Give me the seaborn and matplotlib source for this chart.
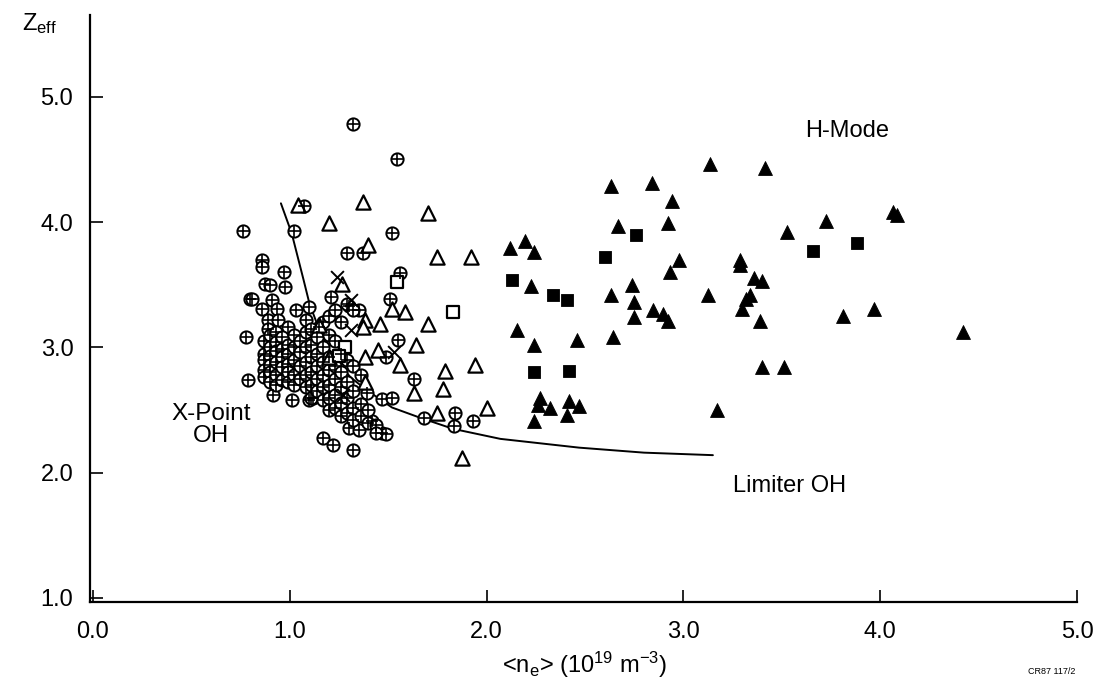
import matplotlib
matplotlib.use("Agg")
import matplotlib.pyplot as plt
import seaborn as sns

# X-Point OH (circle with plus)
xpoint_n = [1.32, 1.545, 0.76, 1.02, 1.07, 1.52, 1.29, 1.37,
            0.86, 0.86, 0.97, 0.875, 0.90, 0.975, 0.80, 0.81, 0.91, 0.86, 0.935, 1.03, 1.10,
            0.89, 0.94, 1.08, 0.78, 0.89, 0.99, 1.15,
            1.56, 1.21, 1.51, 1.55, 1.49, 1.30, 1.35,
            1.63, 1.39, 1.47, 1.52, 1.84, 1.835, 1.68, 1.93, 1.30, 1.35, 1.47, 1.49, 1.32, 1.42,
            0.79, 0.915, 1.01, 1.10, 1.12, 1.17, 1.22,
            0.87, 0.87, 0.87, 0.87, 0.87,
            0.90, 0.90, 0.90, 0.90, 0.90, 0.90,
            0.93, 0.93, 0.93, 0.93, 0.93, 0.93,
            0.96, 0.96, 0.96, 0.96, 0.96,
            0.99, 0.99, 0.99, 0.99, 0.99,
            1.02, 1.02, 1.02, 1.02, 1.02,
            1.05, 1.05, 1.05, 1.05,
            1.08, 1.08, 1.08, 1.08, 1.08,
            1.11, 1.11, 1.11, 1.11, 1.11, 1.11,
            1.14, 1.14, 1.14, 1.14, 1.14,
            1.17, 1.17, 1.17, 1.17, 1.17, 1.17,
            1.20, 1.20, 1.20, 1.20, 1.20, 1.20, 1.20,
            1.23, 1.23, 1.23, 1.23, 1.23, 1.23,
            1.26, 1.26, 1.26, 1.26, 1.26, 1.26,
            1.29, 1.29, 1.29, 1.29, 1.29,
            1.32, 1.32, 1.32, 1.32, 1.32,
            1.36, 1.36, 1.36,
            1.40, 1.40,
            1.44, 1.44]
xpoint_z = [4.78, 4.50, 3.93, 3.93, 4.13, 3.91, 3.75, 3.75,
            3.70, 3.64, 3.60, 3.51, 3.50, 3.48, 3.39, 3.39, 3.38, 3.31, 3.31, 3.30, 3.32,
            3.22, 3.22, 3.22, 3.08, 3.15, 3.16, 3.16,
            3.59, 3.40, 3.39, 3.06, 2.92, 3.33, 3.30,
            2.75, 2.64, 2.59, 2.60, 2.48, 2.37, 2.44, 2.41, 2.36, 2.34, 2.32, 2.31, 2.18, 2.41,
            2.74, 2.62, 2.58, 2.58, 2.60, 2.28, 2.22,
            3.05, 2.95, 2.90, 2.82, 2.76,
            3.10, 3.00, 2.93, 2.86, 2.80, 2.72,
            3.12, 3.04, 2.97, 2.88, 2.78, 2.70,
            3.08, 2.99, 2.92, 2.84, 2.74,
            3.02, 2.95, 2.87, 2.80, 2.72,
            3.10, 3.00, 2.90, 2.78, 2.70,
            3.05, 2.96, 2.85, 2.75,
            3.12, 3.00, 2.88, 2.78, 2.68,
            3.15, 3.02, 2.92, 2.80, 2.70, 2.60,
            3.08, 2.95, 2.85, 2.75, 2.65,
            3.20, 3.00, 2.88, 2.78, 2.68, 2.58,
            3.25, 3.10, 2.92, 2.82, 2.70, 2.60, 2.50,
            3.30, 3.05, 2.85, 2.75, 2.62, 2.52,
            3.20, 2.95, 2.80, 2.68, 2.56, 2.45,
            3.35, 2.90, 2.72, 2.60, 2.48,
            3.30, 2.85, 2.65, 2.52, 2.42,
            2.78, 2.55, 2.45,
            2.50, 2.40,
            2.38, 2.32]

# Limiter OH (open triangles, open squares, crosses)
limiter_n = [1.04, 1.20, 1.37, 1.40, 1.70, 1.75, 1.92, 1.265, 1.52, 1.585, 1.46, 1.38,
             1.37, 1.70, 1.45, 1.38, 1.64, 1.56, 1.79, 1.94, 1.63, 1.78, 1.38, 1.75,
             2.00, 1.875, 1.15, 1.20]
limiter_z = [4.14, 3.99, 4.16, 3.82, 4.07, 3.72, 3.72, 3.51, 3.31, 3.28, 3.19, 3.22,
             3.16, 3.19, 2.98, 2.92, 3.02, 2.86, 2.81, 2.86, 2.64, 2.67, 2.72, 2.48,
             2.52, 2.12, 3.18, 2.92]
limsq_n = [1.545, 1.83, 1.28, 1.25]
limsq_z = [3.52, 3.28, 3.00, 2.93]
cross_n = [1.24, 1.31, 1.31, 1.53, 1.27]
cross_z = [3.56, 3.38, 3.14, 2.96, 2.62]

# H-Mode (filled triangles, filled squares)
hmode_n = [3.135, 3.415, 2.63, 2.84, 2.94, 2.67, 2.92, 2.12, 2.195, 2.24, 2.98, 2.93,
           3.29, 3.29, 2.225, 2.63, 2.74, 2.75, 2.75, 2.845, 2.895, 2.92, 3.125, 3.36,
           3.40, 3.34, 3.32, 3.30, 3.39, 2.155, 2.24, 2.46, 2.64, 3.40, 3.51, 2.27,
           2.26, 2.32, 2.42, 2.47, 2.41, 2.24, 3.17, 4.065, 4.085, 3.725, 3.525, 3.81,
           3.97, 4.42]
hmode_z = [4.46, 4.43, 4.29, 4.31, 4.17, 3.97, 3.99, 3.79, 3.85, 3.76, 3.70, 3.60,
           3.70, 3.66, 3.49, 3.42, 3.50, 3.36, 3.24, 3.30, 3.27, 3.21, 3.42, 3.55,
           3.53, 3.42, 3.39, 3.31, 3.21, 3.14, 3.02, 3.06, 3.08, 2.84, 2.84, 2.60,
           2.54, 2.52, 2.57, 2.53, 2.46, 2.41, 2.50, 4.08, 4.06, 4.01, 3.92, 3.25,
           3.31, 3.12]
hmsq_n = [2.76, 2.60, 2.13, 2.34, 2.41, 2.24, 2.42, 3.66, 3.88]
hmsq_z = [3.90, 3.72, 3.54, 3.42, 3.38, 2.80, 2.81, 3.77, 3.83]

# limiter OH boundary curve
curve_n = [0.955, 1.01, 1.07, 1.10, 1.15, 1.22, 1.31, 1.39, 1.52, 1.66, 1.83, 2.07, 2.47, 2.80, 3.15]
curve_z = [4.15, 3.91, 3.54, 3.35, 3.14, 2.92, 2.76, 2.66, 2.52, 2.44, 2.35, 2.27, 2.20, 2.16, 2.14]

sns.set_style("ticks")
plt.rcParams["font.family"] = ["Liberation Sans", "DejaVu Sans"]
plt.rcParams["mathtext.fontset"] = "custom"
plt.rcParams["mathtext.rm"] = "Liberation Sans"
plt.rcParams["mathtext.it"] = "Liberation Sans:italic"
plt.rcParams["text.color"] = "black"

fig = plt.figure(figsize=(11.02, 6.84), dpi=100)
ax = fig.add_axes([90 / 1102, 82 / 684, 987 / 1102, 587 / 684])

sns.lineplot(x=curve_n, y=curve_z, sort=False, color="black", linewidth=1.4, ax=ax)

sns.scatterplot(x=xpoint_n, y=xpoint_z, marker="o", s=78, facecolor="white", edgecolor="black",
                linewidth=1.4, ax=ax, zorder=3)
sns.scatterplot(x=xpoint_n, y=xpoint_z, marker="+", s=78, color="black", linewidth=1.2,
                ax=ax, zorder=4)
sns.scatterplot(x=limiter_n, y=limiter_z, marker="^", s=105, facecolor="white", edgecolor="black",
                linewidth=1.6, ax=ax, zorder=3)
sns.scatterplot(x=limsq_n, y=limsq_z, marker="s", s=72, facecolor="white", edgecolor="black",
                linewidth=1.6, ax=ax, zorder=3)
sns.scatterplot(x=cross_n, y=cross_z, marker="x", s=85, color="black", linewidth=1.4,
                ax=ax, zorder=5)
sns.scatterplot(x=hmode_n, y=hmode_z, marker="^", s=100, color="black", edgecolor="black",
                linewidth=0.6, ax=ax, zorder=3)
sns.scatterplot(x=hmsq_n, y=hmsq_z, marker="s", s=80, color="black", edgecolor="black",
                linewidth=0.6, ax=ax, zorder=3)

ax.set_xlim(-0.015, 5.0)
ax.set_ylim(0.968, 5.653)
ax.set_xticks([0, 1, 2, 3, 4, 5])
ax.set_xticklabels(["0.0", "1.0", "2.0", "3.0", "4.0", "5.0"])
ax.set_yticks([1, 2, 3, 4, 5])
ax.set_yticklabels(["1.0", "2.0", "3.0", "4.0", "5.0"])
ax.tick_params(axis="both", direction="in", length=9, width=1.2, labelsize=17, colors="black")
ax.tick_params(axis="x", pad=14)
ax.tick_params(axis="y", pad=12)
ax.set_xlabel("")
ax.set_ylabel("")
ax.spines["top"].set_visible(False)
ax.spines["right"].set_visible(False)
for side in ["left", "bottom"]:
    ax.spines[side].set_linewidth(1.6)
    ax.spines[side].set_color("black")

ax.text(3.83, 4.73, "H-Mode", fontsize=17, ha="center", va="center", color="black")
ax.text(0.60, 2.38, "X-Point\nOH", fontsize=17.5, ha="center", va="center", linespacing=1.0,
        color="black")
ax.text(3.54, 1.89, "Limiter OH", fontsize=17, ha="center", va="center", color="black")

fig.text(22 / 1102, 1 - 24 / 684, r"Z$_{\rm eff}$", fontsize=17, ha="left", va="center",
         color="black")
fig.text(585 / 1102, 1 - 665 / 684, r"<n$_{\rm e}$> (10$^{19}$ m$^{-3}$)", fontsize=17,
         ha="center", va="center", color="black")
fig.text(1052 / 1102, 1 - 672 / 684, "CR87 117/2", fontsize=6.5, ha="center", va="center",
         color="black")

fig.savefig("out.png", dpi=100)
plt.close(fig)
